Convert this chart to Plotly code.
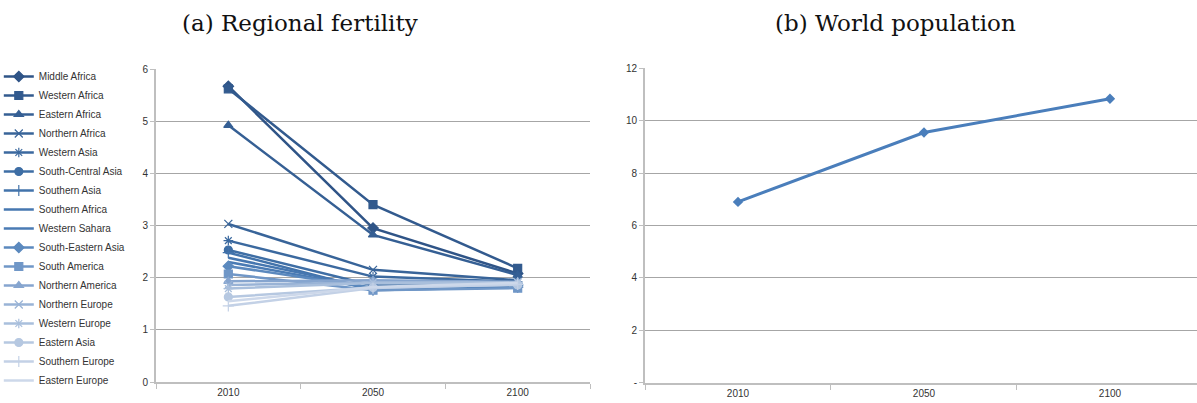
import plotly.graph_objects as go

years = ["2010", "2050", "2100"]

regions = ["Middle Africa", "Western Africa", "Eastern Africa", "Northern Africa",
           "Western Asia", "South-Central Asia", "Southern Asia", "Southern Africa",
           "Western Sahara", "South-Eastern Asia", "South America", "Northern America",
           "Northern Europe", "Western Europe", "Eastern Asia", "Southern Europe",
           "Eastern Europe"]

middle_africa = [5.67, 2.95, 2.08]
western_africa = [5.62, 3.40, 2.18]
eastern_africa = [4.92, 2.82, 2.05]
northern_africa = [3.03, 2.15, 1.95]
western_asia = [2.71, 2.02, 1.92]
south_central_asia = [2.53, 1.85, 1.85]
southern_asia = [2.48, 1.76, 1.82]
southern_africa = [2.38, 1.80, 1.85]
western_sahara = [2.30, 1.79, 1.85]
south_eastern_asia = [2.22, 1.80, 1.86]
south_america = [2.07, 1.76, 1.80]
northern_america = [1.93, 1.95, 1.92]
northern_europe = [1.86, 1.91, 1.91]
western_europe = [1.79, 1.90, 1.91]
eastern_asia = [1.63, 1.81, 1.86]
southern_europe = [1.46, 1.80, 1.87]
eastern_europe = [1.55, 1.82, 1.90]

fertility = [middle_africa, western_africa, eastern_africa, northern_africa,
             western_asia, south_central_asia, southern_asia, southern_africa,
             western_sahara, south_eastern_asia, south_america, northern_america,
             northern_europe, western_europe, eastern_asia, southern_europe,
             eastern_europe]

world_population = [6.90, 9.55, 10.84]

colors = ["#2F5487", "#325A8E", "#355F94", "#386499", "#3B699F", "#3E6EA5",
          "#4273AB", "#4677B0", "#4A7BB4", "#5B89BE", "#7097C7", "#86A5CF",
          "#99B3D6", "#A9BFDC", "#B6C8E1", "#C3D1E6", "#CDD8EA"]
symbols = ["diamond", "square", "triangle-up", "x-thin-open", "asterisk-open",
           "circle", "cross-thin-open", None, None, "diamond", "square",
           "triangle-up", "x-thin-open", "asterisk-open", "circle",
           "cross-thin-open", None]

xi = list(range(len(years)))
fig = go.Figure()

for name, vals, c, s in zip(regions, fertility, colors, symbols):
    if s is None:
        mode = "lines"
        marker = None
    else:
        mode = "lines+markers"
        marker = dict(symbol=s, size=8, color=c, line=dict(color=c, width=1.2))
    fig.add_trace(go.Scatter(x=xi, y=vals, name=name, mode=mode, marker=marker,
                             line=dict(color=c, width=2.5), xaxis="x", yaxis="y"))

fig.add_trace(go.Scatter(x=xi, y=world_population, name="World population",
                         mode="lines+markers", showlegend=False,
                         marker=dict(symbol="diamond", size=8, color="#4A7EBB"),
                         line=dict(color="#4A7EBB", width=3), xaxis="x2", yaxis="y2"))

W, H = 1197, 403
tickfont = dict(family="Liberation Sans, Arial", size=10, color="#333333")
grid = "#A6A6A6"
axline = "#BFBFBF"

common_x = dict(tickvals=xi, ticktext=years, ticks="", showgrid=False,
                showline=True, linecolor=axline, linewidth=2, tickfont=tickfont,
                zeroline=False, automargin=False,
                minor=dict(tick0=-0.5, dtick=1, ticks="outside", ticklen=5,
                           tickcolor=axline, showgrid=False))

common_y = dict(showgrid=True, gridcolor=grid, gridwidth=1, showline=True,
                linecolor=axline, linewidth=2, ticks="outside", ticklen=4,
                tickcolor=axline, tickfont=tickfont, zeroline=False,
                automargin=False)

title_font = dict(family="DejaVu Serif, serif", size=23, color="#111111")

fig.update_layout(
    template="none",
    width=W, height=H,
    margin=dict(l=0, r=0, t=0, b=0, autoexpand=False),
    paper_bgcolor="white", plot_bgcolor="white",
    xaxis=dict(domain=[156 / W, 590 / W], range=[-0.5, 2.5], anchor="y", **common_x),
    yaxis=dict(domain=[(H - 382) / H, (H - 69) / H], range=[0, 6], dtick=1,
               anchor="x", **common_y),
    xaxis2=dict(domain=[645 / W, 1.0], range=[-0.5, 2.468], anchor="y2", **common_x),
    yaxis2=dict(domain=[(H - 382.7) / H, (H - 68.3) / H], range=[0, 12],
                tickvals=[0, 2, 4, 6, 8, 10, 12],
                ticktext=["-", "2", "4", "6", "8", "10", "12"],
                anchor="x2", **common_y),
    showlegend=True,
    legend=dict(x=-0.001, y=(H - 62) / H, xanchor="left", yanchor="top",
                font=dict(family="Liberation Sans, Arial", size=10, color="#333333"),
                tracegroupgap=0, itemwidth=30, bgcolor="rgba(0,0,0,0)",
                borderwidth=0),
    annotations=[
        dict(text="(a) Regional fertility", x=300 / W, y=1 - 23 / H, xref="paper",
             yref="paper", showarrow=False, xanchor="center", yanchor="middle",
             font=title_font),
        dict(text="(b) World population", x=895 / W, y=1 - 23 / H, xref="paper",
             yref="paper", showarrow=False, xanchor="center", yanchor="middle",
             font=title_font),
    ],
)

fig.write_html("out.html", post_script="document.body.style.margin='0px';",
               config={"displayModeBar": False})
